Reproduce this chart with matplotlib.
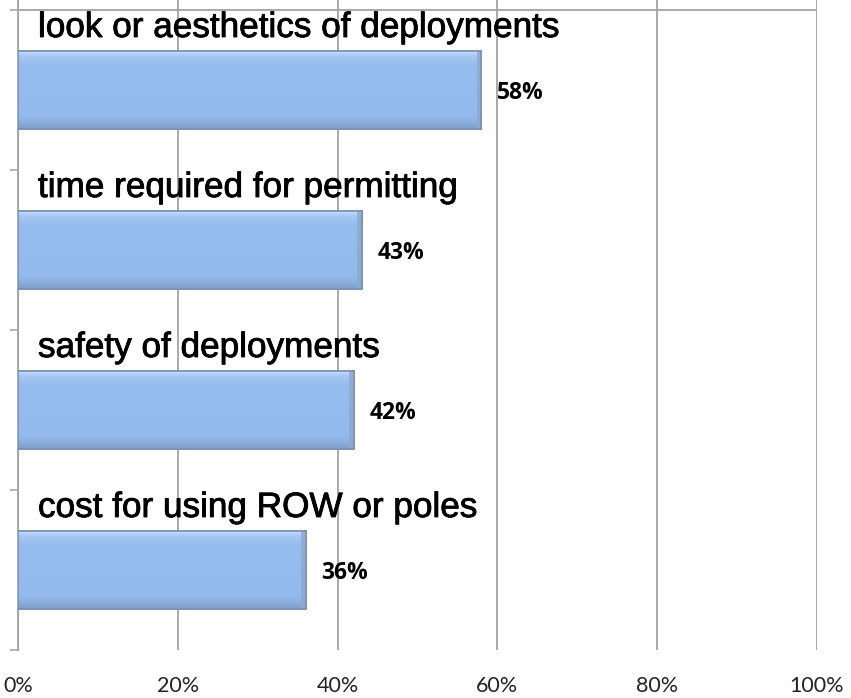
import matplotlib
matplotlib.use("Agg")
import numpy as np
import matplotlib.pyplot as plt
from matplotlib import patheffects as pe
from matplotlib.colors import LinearSegmentedColormap

# data, top to bottom
categories = ["look or aesthetics of deployments",
              "time required for permitting",
              "safety of deployments",
              "cost for using ROW or poles"]
values = [58, 43, 42, 36]
xticks = [0, 20, 40, 60, 80, 100]
xtick_labels = ["0%", "20%", "40%", "60%", "80%", "100%"]

grid_col = "#a3a3a3"

fig = plt.figure(figsize=(8.51, 6.98), dpi=100)
ax = fig.add_axes([18 / 851, 48 / 698, (817 - 18) / 851, 650 / 698])

ypos = np.arange(len(categories))
bars = ax.barh(ypos, values, height=0.49, color="#95bdef",
               edgecolor="#7b91b2", linewidth=1.2, zorder=3)

# bevel-ish vertical gradient inside each bar
cmap = LinearSegmentedColormap.from_list(
    "bev", [(0.0, "#d2e4fa"), (0.07, "#a8c9f3"), (0.18, "#96bdef"),
            (0.85, "#93baec"), (1.0, "#7f9fcc")])
grad = np.linspace(0, 1, 256).reshape(-1, 1)
for b in bars:
    x0, y0 = b.get_x(), b.get_y()
    w, h = b.get_width(), b.get_height()
    im = ax.imshow(grad, cmap=cmap, aspect="auto", zorder=3.5,
                   extent=[x0, x0 + w, y0 + h, y0], interpolation="bilinear")
    im.set_clip_path(b)
    # slightly darker right end
    ax.add_patch(plt.Rectangle((x0 + w - 0.6, y0), 0.6, h, color="#8aa8d3",
                               alpha=0.8, linewidth=0, zorder=3.7))
    ax.add_patch(plt.Rectangle((x0, y0), w, h, fill=False,
                               edgecolor="#7b91b2", linewidth=1.2, zorder=4))

ax.set_xlim(0, 100)
ax.set_ylim(3.5, -0.5 - 10 / 160)

for i, (cat, v) in enumerate(zip(categories, values)):
    ax.text(2.5, i - 0.5 + 27 / 160, cat, fontsize=25.3, family="Liberation Sans",
            va="baseline", ha="left", zorder=5,
            path_effects=[pe.withStroke(linewidth=0.6, foreground="black")])
    ax.text(v + 2, i + 0.02, f"{v}%", fontsize=16.5, family="Open Sans",
            fontweight="bold", va="center", ha="left", zorder=5)

ax.set_xticks(xticks)
ax.set_xticklabels(xtick_labels, family="Lato", fontsize=15.5, color="#222222")
ax.tick_params(axis="x", length=0, pad=19)
ax.set_yticks(np.arange(-0.5, len(categories), 1))
ax.set_yticklabels([])
ax.tick_params(axis="y", length=5.8, width=1.1, color=grid_col, direction="out")

ax.grid(axis="x", color=grid_col, linewidth=1.3, zorder=1)
ax.axhline(-0.5, color=grid_col, linewidth=1.3, zorder=1)
for s in ["top", "right", "bottom"]:
    ax.spines[s].set_visible(False)
ax.spines["left"].set_color(grid_col)
ax.spines["left"].set_linewidth(1.3)

fig.savefig("out.png", dpi=100)
